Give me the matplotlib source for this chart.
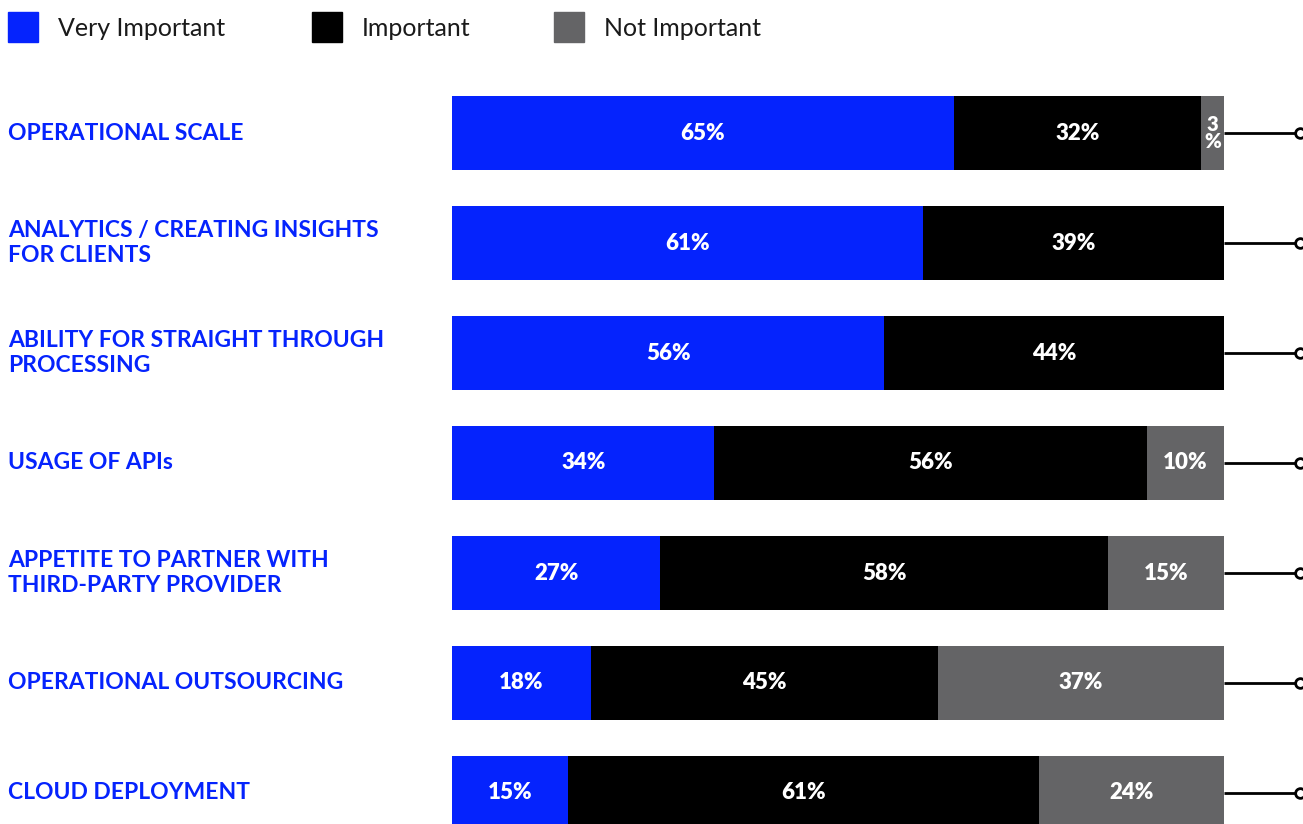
import matplotlib.pyplot as plt
from matplotlib.patches import Rectangle

categories = [
    "OPERATIONAL SCALE",
    "ANALYTICS / CREATING INSIGHTS\nFOR CLIENTS",
    "ABILITY FOR STRAIGHT THROUGH\nPROCESSING",
    "USAGE OF APIs",
    "APPETITE TO PARTNER WITH\nTHIRD-PARTY PROVIDER",
    "OPERATIONAL OUTSOURCING",
    "CLOUD DEPLOYMENT",
]
very_important = [65, 61, 56, 34, 27, 18, 15]
important = [32, 39, 44, 56, 58, 45, 61]
not_important = [3, 0, 0, 10, 15, 37, 24]

series_names = ["Very Important", "Important", "Not Important"]
colors = ["#0523fd", "#000000", "#646466"]

W, H = 1303, 824
fig = plt.figure(figsize=(W / 100, H / 100), dpi=100)

# plot area in pixels: bars run from x=452 to x=1224, rows are 110px apart
ax = fig.add_axes([452 / W, 0, 772 / W, 746 / H])
ax.set_xlim(0, 100)
ax.set_ylim((824 - 133) / 110, -0.5)
ax.axis("off")

label_font = ["Lato", "DejaVu Sans"]
rows = range(len(categories))
left = [0] * len(categories)
for name, vals, col in zip(series_names, [very_important, important, not_important], colors):
    ax.barh(rows, vals, left=left, height=0.664, color=col, clip_on=False)
    for i, v in enumerate(vals):
        if v == 0:
            continue
        txt = f"{v}%" if v >= 5 else f"{v}\n%"
        ax.text(left[i] + v / 2, i, txt, ha="center", va="center", color="white",
                fontsize=16 if v >= 5 else 14.5, fontweight="heavy",
                family=label_font, linespacing=0.85)
    left = [l + v for l, v in zip(left, vals)]

# connector lines out to the right edge
for i in rows:
    ax.plot([100, 109.4], [i, i], color="black", lw=2, clip_on=False,
            solid_capstyle="butt")
    ax.plot([109.9], [i], marker="o", ms=7, mfc="white", mec="black", mew=2,
            clip_on=False)

# category labels
for i, cat in enumerate(categories):
    y = ax.transData.transform((0, i))[1]
    fig.text(8 / W, y / H, cat, ha="left", va="center", color="#0523fd",
             fontsize=16.5, fontweight="bold", family=label_font, linespacing=1.2)

# legend
legend_x = [8, 312, 554]
for name, col, x in zip(series_names, colors, legend_x):
    fig.add_artist(Rectangle((x / W, 1 - 42 / H), 30 / W, 30 / H,
                             transform=fig.transFigure, color=col))
    fig.text((x + 50) / W, 1 - 29 / H, name, ha="left", va="center",
             fontsize=18, fontweight="normal", family=label_font, color="#1a1a1a")

fig.savefig("out.png", dpi=100)
